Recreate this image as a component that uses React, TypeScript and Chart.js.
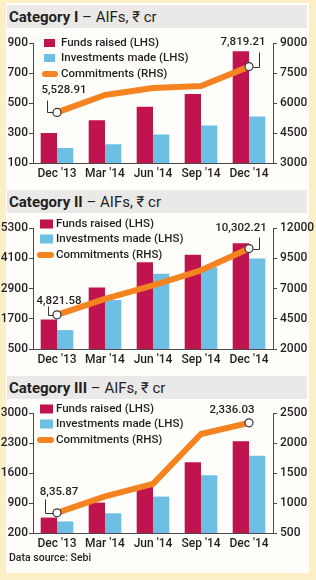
import React, { useEffect, useRef } from "react";
import { Chart, registerables } from "chart.js";

Chart.register(...registerables);

// ---- data ----
const quarters = ["Dec '13", "Mar '14", "Jun '14", "Sep '14", "Dec '14"];
const legendLabels = ["Funds raised (LHS)", "Investments made (LHS)", "Commitments (RHS)"];

const cat1Funds = [300, 385, 475, 560, 845];
const cat1Investments = [200, 225, 290, 350, 410];
const cat1Commitments = [5528.91, 6400, 6750, 6850, 7819.21];
const cat1LeftTicks = [100, 300, 500, 700, 900];
const cat1RightTicks = [3000, 4500, 6000, 7500, 9000];
const cat1Callouts = ["5,528.91", "7,819.21"];

const cat2Funds = [1670, 2940, 3940, 4240, 4700];
const cat2Investments = [1250, 2440, 3490, 3740, 4090];
const cat2Commitments = [4821.58, 6150, 7250, 8500, 10302.21];
const cat2LeftTicks = [500, 1700, 2900, 4100, 5300];
const cat2RightTicks = [2000, 4500, 7000, 9500, 12000];
const cat2Callouts = ["4,821.58", "10,302.21"];

const cat3Funds = [560, 910, 1280, 1850, 2340];
const cat3Investments = [470, 660, 1050, 1550, 2000];
const cat3Commitments = [835.87, 1110, 1320, 2150, 2336.03];
const cat3LeftTicks = [200, 900, 1600, 2300, 3000];
const cat3RightTicks = [500, 1000, 1500, 2000, 2500];
const cat3Callouts = ["8,35.87", "2,336.03"];

// ---- styles ----
const FUNDS = "#c0144e";
const INVEST = "#6dbfe3";
const ORANGE = "#f5831f";
const AXIS = "#4a4a4a";
const INK = "#231f20";
const FAMILY = "Roboto, 'Noto Sans', sans-serif";

type Callout = { dx: number; dy: number; leader: number[][] | null };
type LegendLayout = { boxX: number; boxW: number; boxH: number; lineX0: number; lineX1: number; textX: number; rows: number[] };

type PanelProps = {
  top: number;
  height: number;
  funds: number[];
  investments: number[];
  commitments: number[];
  leftTicks: number[];
  rightTicks: number[];
  callouts: string[];
  calloutLayout: Callout[];
  legend: LegendLayout;
};

function ComboPanel(p: PanelProps) {
  const ref = useRef<HTMLCanvasElement>(null);

  useEffect(() => {
    const canvas = ref.current;
    if (!canvas) return;
    const n = quarters.length;

    const decor = {
      id: "decor",
      beforeDatasetsDraw(chart: any) {
        const ctx = chart.ctx as CanvasRenderingContext2D;
        const pts = chart.getDatasetMeta(2).data;
        ctx.save();
        ctx.strokeStyle = "#333";
        ctx.lineWidth = 1;
        p.calloutLayout.forEach((c, k) => {
          if (!c.leader) return;
          const pt = pts[k === 0 ? 0 : n - 1];
          ctx.beginPath();
          c.leader.forEach(([lx, ly], i) => {
            const x = Math.round(pt.x + lx) + 0.5;
            const y = Math.round(pt.y + ly) + 0.5;
            if (i === 0) ctx.moveTo(x, y);
            else ctx.lineTo(x, y);
          });
          ctx.stroke();
        });
        ctx.restore();
      },
      afterDatasetsDraw(chart: any) {
        const ctx = chart.ctx as CanvasRenderingContext2D;
        const area = chart.chartArea;
        const pts = chart.getDatasetMeta(2).data;
        const L = p.legend;
        ctx.save();
        ctx.font = `500 11.5px ${FAMILY}`;
        ctx.textBaseline = "middle";
        ctx.textAlign = "left";
        // legend
        const rowY = L.rows.map((r) => area.top + r);
        ctx.fillStyle = FUNDS;
        ctx.fillRect(L.boxX, rowY[0] - L.boxH / 2, L.boxW, L.boxH);
        ctx.fillStyle = INVEST;
        ctx.fillRect(L.boxX, rowY[1] - L.boxH / 2, L.boxW, L.boxH);
        ctx.strokeStyle = ORANGE;
        ctx.lineWidth = 6;
        ctx.lineCap = "round";
        ctx.beginPath();
        ctx.moveTo(L.lineX0, rowY[2]);
        ctx.lineTo(L.lineX1, rowY[2]);
        ctx.stroke();
        ctx.fillStyle = INK;
        legendLabels.forEach((t, i) => ctx.fillText(t, L.textX, rowY[i] + 0.5));
        // value callouts
        ctx.font = `500 11.5px ${FAMILY}`;
        ctx.textAlign = "center";
        p.calloutLayout.forEach((c, k) => {
          const pt = pts[k === 0 ? 0 : n - 1];
          ctx.fillText(p.callouts[k], pt.x + c.dx, pt.y + c.dy);
        });
        ctx.restore();
      },
    };

    const tickFont = { family: FAMILY, size: 12, weight: "500" };

    const chart = new Chart(canvas, {
      type: "bar",
      data: {
        labels: quarters,
        datasets: [
          {
            type: "bar",
            label: legendLabels[0],
            data: p.funds,
            backgroundColor: FUNDS,
            yAxisID: "y",
            order: 2,
            categoryPercentage: 0.68,
            barPercentage: 1,
          },
          {
            type: "bar",
            label: legendLabels[1],
            data: p.investments,
            backgroundColor: INVEST,
            yAxisID: "y",
            order: 2,
            categoryPercentage: 0.68,
            barPercentage: 1,
          },
          {
            type: "line",
            label: legendLabels[2],
            data: p.commitments,
            borderColor: ORANGE,
            borderWidth: 6,
            borderCapStyle: "round",
            borderJoinStyle: "round",
            tension: 0,
            yAxisID: "y1",
            order: 0,
            pointRadius: p.commitments.map((_, i) => (i === 0 || i === p.commitments.length - 1 ? 4 : 0)),
            pointBackgroundColor: "#ffffff",
            pointBorderColor: "#333333",
            pointBorderWidth: 1.2,
          } as any,
        ],
      },
      options: {
        responsive: false,
        animation: false,
        events: [],
        layout: { padding: { top: 15, left: 0, right: 0, bottom: 0 } },
        plugins: { legend: { display: false }, tooltip: { enabled: false } },
        scales: {
          x: {
            grid: { drawOnChartArea: false, drawTicks: false },
            border: { display: true, color: AXIS, width: 1 },
            ticks: { color: INK, font: tickFont, padding: 4, maxRotation: 0, autoSkip: false },
            afterFit: (ax: any) => {
              ax.height = 25;
            },
          },
          y: {
            position: "left",
            min: p.leftTicks[0],
            max: p.leftTicks[p.leftTicks.length - 1],
            afterBuildTicks: (ax: any) => {
              ax.ticks = p.leftTicks.map((v) => ({ value: v }));
            },
            afterFit: (ax: any) => {
              ax.width = 33;
            },
            grid: { drawOnChartArea: false, drawTicks: true, tickLength: 4, color: AXIS },
            border: { display: true, color: AXIS, width: 1 },
            ticks: { color: INK, font: tickFont, padding: 1, callback: (v: any) => String(v) },
          },
          y1: {
            position: "right",
            min: p.rightTicks[0],
            max: p.rightTicks[p.rightTicks.length - 1],
            afterBuildTicks: (ax: any) => {
              ax.ticks = p.rightTicks.map((v) => ({ value: v }));
            },
            afterFit: (ax: any) => {
              ax.width = 43;
            },
            grid: { drawOnChartArea: false, drawTicks: true, tickLength: 4, color: AXIS },
            border: { display: true, color: AXIS, width: 1 },
            ticks: { color: INK, font: tickFont, padding: 3, callback: (v: any) => String(v) },
          },
        },
      } as any,
      plugins: [decor],
    });
    return () => chart.destroy();
  }, []);

  return (
    <canvas
      ref={ref}
      width={316}
      height={p.height}
      style={{ position: "absolute", left: 0, top: p.top, width: 316, height: p.height }}
    />
  );
}

function TitleBar({ top, bold }: { top: number; bold: string }) {
  return (
    <div
      style={{
        position: "absolute",
        left: 7,
        top,
        width: 300,
        height: 23,
        background: "#ebe8e8",
        fontFamily: FAMILY,
        fontSize: 15,
        lineHeight: "23px",
        color: INK,
        paddingLeft: 2,
        paddingTop: 1,
        boxSizing: "border-box",
        whiteSpace: "nowrap",
      }}
    >
      <span style={{ fontWeight: 700 }}>{bold}</span>
      <span> – AIFs, ₹ cr</span>
    </div>
  );
}

const legendWide: LegendLayout = { boxX: 44, boxW: 11, boxH: 8, lineX0: 45, lineX1: 55, textX: 61, rows: [0, 15, 31] };
const legendNarrow: LegendLayout = { boxX: 40, boxW: 13, boxH: 9, lineX0: 40, lineX1: 51, textX: 56, rows: [-4, 11, 27] };

export default function App() {
  return (
    <div style={{ position: "fixed", left: 0, top: 0, width: 316, height: 580, background: "#fcefc6", overflow: "hidden" }}>
      <div style={{ position: "absolute", left: 6, top: 3, width: 303, height: 570, background: "#fffefa" }} />

      <TitleBar top={5} bold="Category I" />
      <ComboPanel
        top={28}
        height={160}
        funds={cat1Funds}
        investments={cat1Investments}
        commitments={cat1Commitments}
        leftTicks={cat1LeftTicks}
        rightTicks={cat1RightTicks}
        callouts={cat1Callouts}
        calloutLayout={[
          { dx: 7, dy: -22, leader: [[-10, -12], [-10, 0], [-4, 0]] },
          { dx: -6, dy: -24, leader: [[4, 0], [10, 0], [10, -15]] },
        ]}
        legend={legendWide}
      />

      <TitleBar top={190} bold="Category II" />
      <ComboPanel
        top={213}
        height={161}
        funds={cat2Funds}
        investments={cat2Investments}
        commitments={cat2Commitments}
        leftTicks={cat2LeftTicks}
        rightTicks={cat2RightTicks}
        callouts={cat2Callouts}
        calloutLayout={[
          { dx: 2, dy: -14, leader: [[-9, -9], [-9, 0], [-4, 0]] },
          { dx: -8, dy: -20, leader: [[4, 0], [10, 0], [10, -12]] },
        ]}
        legend={legendNarrow}
      />

      <TitleBar top={376} bold="Category III" />
      <ComboPanel
        top={398}
        height={160}
        funds={cat3Funds}
        investments={cat3Investments}
        commitments={cat3Commitments}
        leftTicks={cat3LeftTicks}
        rightTicks={cat3RightTicks}
        callouts={cat3Callouts}
        calloutLayout={[
          { dx: 2, dy: -21, leader: [[-12, -14], [-12, 0], [-4, 0]] },
          { dx: -17, dy: -13, leader: null },
        ]}
        legend={legendNarrow}
      />

      <div
        style={{
          position: "absolute",
          left: 9,
          top: 551,
          fontFamily: FAMILY,
          fontSize: 10.5,
          fontWeight: 500,
          lineHeight: "14px",
          color: INK,
          whiteSpace: "nowrap",
        }}
      >
        Data source: Sebi
      </div>
    </div>
  );
}
